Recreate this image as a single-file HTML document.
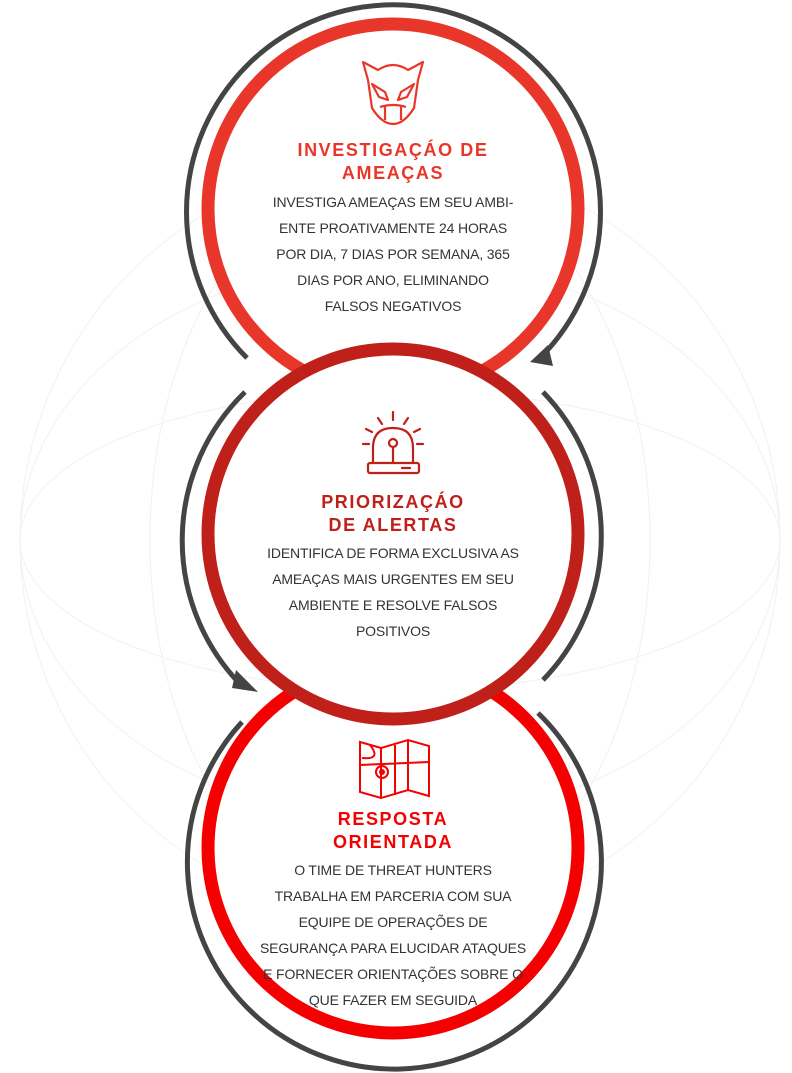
<!DOCTYPE html>
<html><head><meta charset="utf-8"><style>
html,body{margin:0;padding:0;background:#fff}
body{width:792px;height:1073px;position:relative;overflow:hidden;font-family:"Liberation Sans",sans-serif}
.t{position:absolute;left:0;width:786px;text-align:center;font-weight:bold;font-size:18px;letter-spacing:1.6px;line-height:23px}
.b{position:absolute;left:0;width:786px;text-align:center;font-size:14px;color:#333;line-height:26px;letter-spacing:-0.15px}
</style></head><body>
<svg width="792" height="1073" style="position:absolute;left:0;top:0">
<g fill="none" stroke="#f1f1f1" stroke-width="1">
<circle cx="400" cy="540" r="380"/><ellipse cx="400" cy="540" rx="250" ry="380"/><ellipse cx="400" cy="540" rx="380" ry="150"/><ellipse cx="400" cy="540" rx="110" ry="380"/><ellipse cx="400" cy="540" rx="380" ry="280"/>
</g>
<g fill="none" stroke="#444" stroke-width="5">
<path d="M247,358 A207,207 0 1 1 540,358" />
<path d="M245,392 A207,207 0 0 0 244,688"/>
<path d="M543,392 A207,207 0 0 1 543,680"/>
<path d="M242,722 A207,207 0 1 0 538,713"/>
</g>
<path d="M548,345 L530,362 L553,366 z" fill="#444"/>
<path d="M236,670 L258,692 L232,688 z" fill="#444"/>
<circle cx="393" cy="209" r="185" fill="#fff" stroke="#e8372a" stroke-width="13"/>
<circle cx="393" cy="848" r="185" fill="#fff" stroke="#f40000" stroke-width="13"/>
<circle cx="393" cy="534" r="185" fill="#fff" stroke="#c0201a" stroke-width="13"/>
<g fill="none" stroke="#e8372a" stroke-width="2.2" stroke-linejoin="round">
<path d="M363,62 L378,70 Q393,60 408,70 L423,62 L418,80 L414,108 Q404,124 393,124 Q382,124 372,108 L368,80 Z"/>
<path d="M372,84 L385,92 L388,100 L379,97 Z M414,84 L401,92 L398,100 L407,97 Z"/>
<path d="M385,106 L385,120 M401,106 L401,120 M380,107 Q393,103 406,107"/>
</g>
<g fill="none" stroke="#c0201a" stroke-width="2.2" stroke-linecap="round">
<path d="M373,463 L373,448 Q373,428 393,428 Q413,428 413,448 L413,463"/>
<rect x="368" y="463" width="51" height="10" rx="2"/>
<circle cx="393" cy="443" r="4"/><path d="M393,447 L393,463 M402,468 L410,468"/>
<path d="M393,412 L393,420 M378,418 L382,424 M408,418 L404,424 M366,429 L372,432 M420,429 L414,432 M363,444 L369,444 M417,444 L423,444"/>
</g>
<g fill="none" stroke="#f40000" stroke-width="2">
<path d="M360,742 L381,748 L408,740 L429,746 L429,796 L408,790 L381,798 L360,792 Z"/>
<path d="M381,748 L381,798 M408,740 L408,790 M360,765 L429,762 M395,745 L395,795 M370,745 Q382,760 362,758"/>
<circle cx="382" cy="772" r="6"/>
</g>
<circle cx="382" cy="772" r="3" fill="#f40000"/>
</svg>
<div class="t" style="top:139px;color:#e8372a">INVESTIGAÇÁO DE<br>AMEAÇAS</div>
<div class="b" style="top:189px">INVESTIGA AMEAÇAS EM SEU AMBI-<br>ENTE PROATIVAMENTE 24 HORAS<br>POR DIA, 7 DIAS POR SEMANA, 365<br>DIAS POR ANO, ELIMINANDO<br>FALSOS NEGATIVOS</div>
<div class="t" style="top:491px;color:#c0201a">PRIORIZAÇÁO<br>DE ALERTAS</div>
<div class="b" style="top:540px">IDENTIFICA DE FORMA EXCLUSIVA AS<br>AMEAÇAS MAIS URGENTES EM SEU<br>AMBIENTE E RESOLVE FALSOS<br>POSITIVOS</div>
<div class="t" style="top:808px;color:#f40000">RESPOSTA<br>ORIENTADA</div>
<div class="b" style="top:857px">O TIME DE THREAT HUNTERS<br>TRABALHA EM PARCERIA COM SUA<br>EQUIPE DE OPERAÇÕES DE<br>SEGURANÇA PARA ELUCIDAR ATAQUES<br>E FORNECER ORIENTAÇÕES SOBRE O<br>QUE FAZER EM SEGUIDA</div>
</body></html>
